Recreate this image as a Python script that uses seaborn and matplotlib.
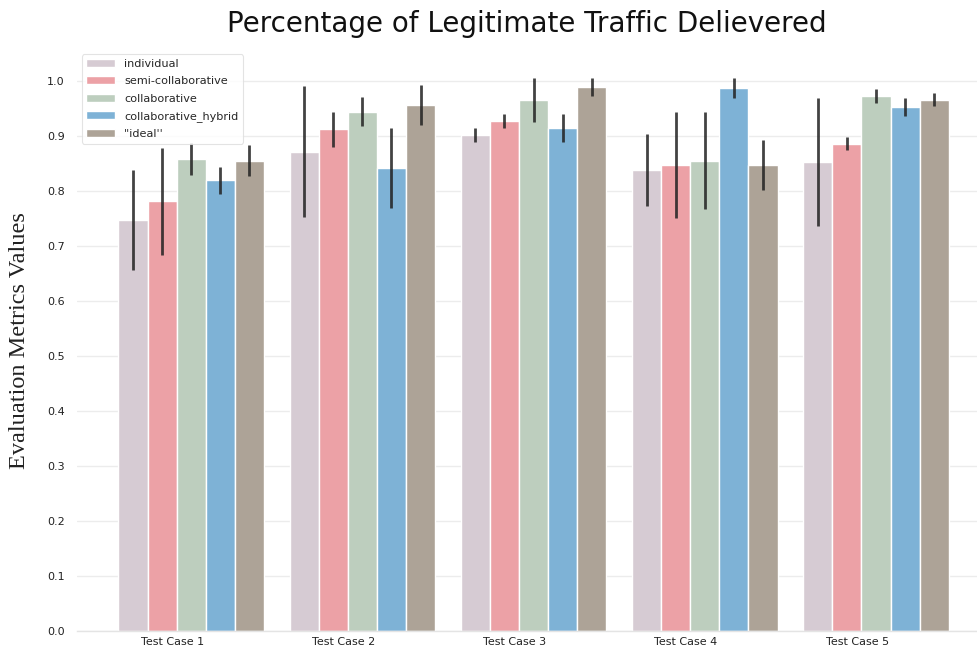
import numpy as np
import pandas as pd
import matplotlib
matplotlib.use("Agg")
import matplotlib.pyplot as plt
import seaborn as sns

# Test cases and strategies
test_cases = ["Test Case 1", "Test Case 2", "Test Case 3", "Test Case 4", "Test Case 5"]
strategies = ["individual", "semi-collaborative", "collaborative",
              "collaborative_hybrid", "''ideal''"]

# Mean fraction of legitimate traffic delivered, per strategy (one value per test case)
individual = [0.747, 0.871, 0.901, 0.838, 0.852]
semi_collaborative = [0.781, 0.912, 0.927, 0.847, 0.886]
collaborative = [0.858, 0.944, 0.966, 0.855, 0.972]
collaborative_hybrid = [0.819, 0.842, 0.914, 0.987, 0.952]
ideal = [0.855, 0.956, 0.989, 0.847, 0.966]

# Standard deviation of each mean (half-length of the error bar)
individual_sd = [0.090, 0.119, 0.013, 0.065, 0.116]
semi_collaborative_sd = [0.097, 0.032, 0.013, 0.097, 0.011]
collaborative_sd = [0.029, 0.026, 0.040, 0.088, 0.013]
collaborative_hybrid_sd = [0.025, 0.073, 0.026, 0.018, 0.016]
ideal_sd = [0.028, 0.036, 0.017, 0.045, 0.011]

colors = ["#d6cbd3", "#eca1a6", "#bdcebe", "#7eb2d6", "#ada397"]

means = [individual, semi_collaborative, collaborative, collaborative_hybrid, ideal]
sds = [individual_sd, semi_collaborative_sd, collaborative_sd,
       collaborative_hybrid_sd, ideal_sd]

rows = []
for s, m, e in zip(strategies, means, sds):
    for tc, v, d in zip(test_cases, m, e):
        rows.append({"case": tc, "strategy": s, "value": v, "sd": d})
df = pd.DataFrame(rows)

sns.set_theme(style="whitegrid")
plt.rcParams["font.family"] = ["DejaVu Sans"]

fig = plt.figure(figsize=(9.77, 6.54), dpi=100)
ax = fig.add_axes([77 / 977, 23 / 654, 1 - 77 / 977, (631 - 50) / 654])

sns.barplot(data=df, x="case", y="value", hue="strategy", order=test_cases,
            hue_order=strategies, palette=colors, saturation=1, width=0.85,
            errorbar=None, edgecolor="white", linewidth=1.0, ax=ax)

# error bars at the centre of each drawn bar
bars = [p for p in ax.patches if p.get_height() > 0][:len(df)]
for i, s in enumerate(strategies):
    sub = df[df["strategy"] == s]
    for j, (_, r) in enumerate(sub.iterrows()):
        p = bars[i * len(test_cases) + j]
        xc = p.get_x() + p.get_width() / 2
        ax.errorbar(xc, r["value"], yerr=r["sd"], fmt="none",
                    ecolor="#222222", elinewidth=2.0, alpha=0.85, capsize=0)

ax.set_ylim(0, 1.056)
ax.set_xlim(-0.667, 4.59)
ax.set_yticks(np.arange(0, 1.01, 0.1))
ax.set_yticklabels([f"{v:.1f}" for v in np.arange(0, 1.01, 0.1)], fontsize=8)
ax.set_xticks(np.arange(len(test_cases)) - 0.11)
ax.set_xticklabels(test_cases, fontsize=8)
ax.tick_params(axis="y", length=0, pad=9, colors="#222222")
ax.tick_params(axis="x", length=0, pad=4, colors="#222222")

ax.grid(axis="y", color="#ececec", linewidth=1.0)
ax.grid(axis="x", visible=False)
for side in ["left", "top", "right"]:
    ax.spines[side].set_visible(False)
ax.spines["bottom"].set_color("#e4e4e4")
ax.spines["bottom"].set_linewidth(1.0)

ax.set_xlabel("")
ax.set_ylabel("Evaluation Metrics Values", family="Liberation Serif",
              fontsize=17.5, color="#222222")
ax.yaxis.set_label_coords(-47 / 900, 0.5)

ax.set_title("Percentage of Legitimate Traffic Delievered", fontsize=20,
             pad=13, color="#111111")

leg = ax.legend(loc="upper left", fontsize=8.1, frameon=True,
                borderaxespad=0.4, handlelength=2.6, labelspacing=0.65)
leg.get_frame().set_edgecolor("#dddddd")
leg.get_frame().set_linewidth(0.8)

fig.savefig("out.png", dpi=100)
